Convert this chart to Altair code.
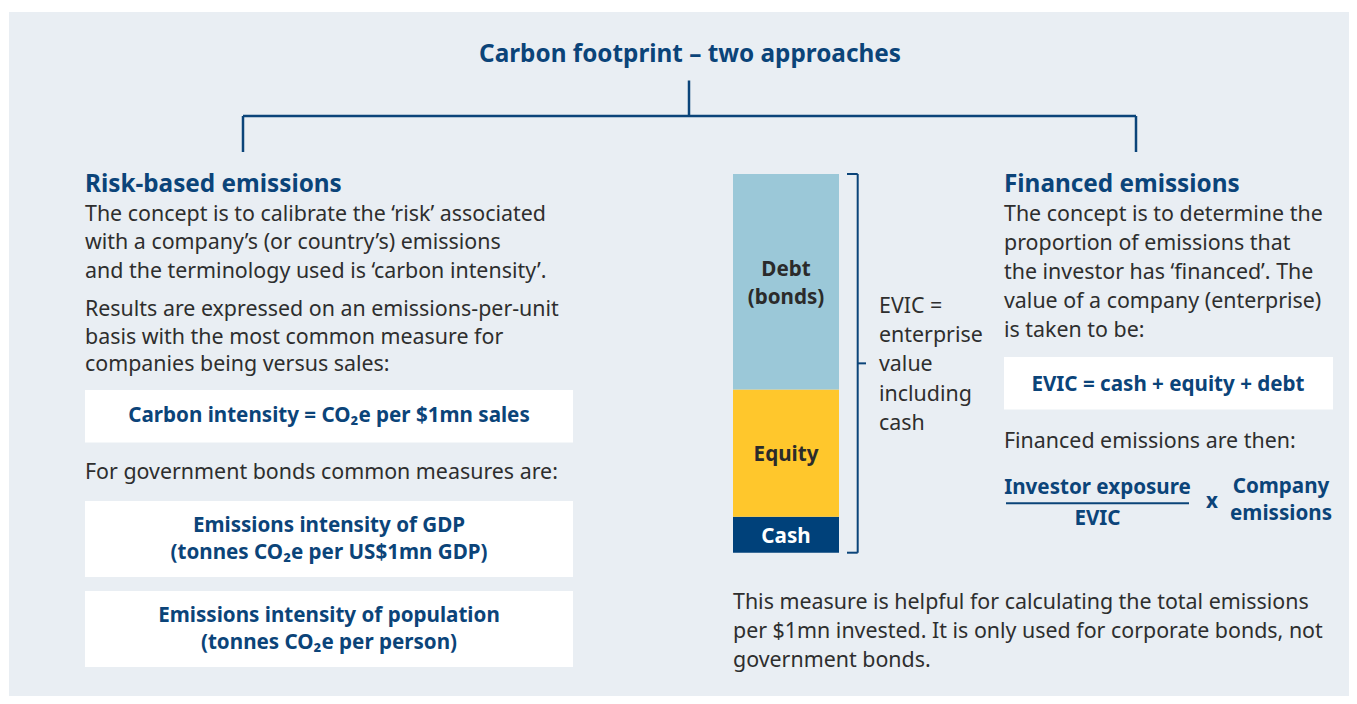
import altair as alt
import pandas as pd

# ---------------- content ----------------
title = ["Carbon footprint – two approaches"]

left_heading = ["Risk-based emissions"]
left_para1 = [
    "The concept is to calibrate the ‘risk’ associated",
    "with a company’s (or country’s) emissions",
    "and the terminology used is ‘carbon intensity’.",
]
left_para2 = [
    "Results are expressed on an emissions-per-unit",
    "basis with the most common measure for",
    "companies being versus sales:",
]
box1_text = ["Carbon intensity = CO₂e per $1mn sales"]
left_para3 = ["For government bonds common measures are:"]
box2_text = ["Emissions intensity of GDP", "(tonnes CO₂e per US$1mn GDP)"]
box3_text = ["Emissions intensity of population", "(tonnes CO₂e per person)"]

components = ["Cash", "Equity", "Debt"]
shares = [9.5, 33.6, 56.9]
component_labels = ["Cash", "Equity", "Debt\n(bonds)"]
evic_note = ["EVIC =", "enterprise", "value", "including", "cash"]

right_heading = ["Financed emissions"]
right_para1 = [
    "The concept is to determine the",
    "proportion of emissions that",
    "the investor has ‘financed’. The",
    "value of a company (enterprise)",
    "is taken to be:",
]
box4_text = ["EVIC = cash + equity + debt"]
right_para2 = ["Financed emissions are then:"]
numerator = ["Investor exposure"]
denominator = ["EVIC"]
times_sign = ["x"]
factor = ["Company", "emissions"]
bottom_para = [
    "This measure is helpful for calculating the total emissions",
    "per $1mn invested. It is only used for corporate bonds, not",
    "government bonds.",
]

# ---------------- styles / layout ----------------
OX, OY = 8, 8
W, H = 1341, 688
FONT = "Noto Sans"
NAVY = "#0b4479"
BAR_NAVY = "#00417a"
BODY = "#2e2e2e"
PANEL = "#e9eef3"
LIGHTBLUE = "#9bc8d8"
YELLOW = "#ffc72c"
BODY_SIZE = 21.4
BOLD_SIZE = 20.6
HEAD_SIZE = 24.3
DY = 2


def text_layer(xs, ys, texts, size=BODY_SIZE, weight="normal", color=BODY, align="left"):
    df = pd.DataFrame({"x": [v - OX for v in xs], "y": [v - OY for v in ys], "t": texts})
    return alt.Chart(df).mark_text(
        align=align, baseline="middle", font=FONT, fontSize=size,
        fontWeight=weight, color=color, dy=DY,
    ).encode(
        x=alt.X("x:Q", scale=None, axis=None),
        y=alt.Y("y:Q", scale=None, axis=None),
        text="t:N",
    )


# panels / boxes
rect_df = pd.DataFrame({
    "x": [9 - OX, 85 - OX, 85 - OX, 85 - OX, 1004 - OX],
    "x2": [W, 573 - OX, 573 - OX, 573 - OX, 1333 - OX],
    "y": [12 - OY, 390 - OY, 501 - OY, 591 - OY, 357 - OY],
    "y2": [H, 442.5 - OY, 577 - OY, 667 - OY, 409.5 - OY],
    "c": [PANEL, "white", "white", "white", "white"],
})
rects = alt.Chart(rect_df).mark_rect().encode(
    x=alt.X("x:Q", scale=None, axis=None), x2="x2:Q",
    y=alt.Y("y:Q", scale=None, axis=None), y2="y2:Q",
    color=alt.Color("c:N", scale=None),
)

# connector tree
seg_df = pd.DataFrame({
    "x": [v - OX for v in [689, 243, 243, 1136]],
    "x2": [v - OX for v in [689, 1136, 243, 1136]],
    "y": [v - OY for v in [80.5, 116, 116, 116]],
    "y2": [v - OY for v in [116, 116, 152, 152]],
})
tree = alt.Chart(seg_df).mark_rule(color=NAVY, strokeWidth=2.5).encode(
    x=alt.X("x:Q", scale=None, axis=None), x2="x2:Q",
    y=alt.Y("y:Q", scale=None, axis=None), y2="y2:Q",
)

# fraction line
frac_df = pd.DataFrame({"x": [1006 - OX], "x2": [1189 - OX], "y": [503.3 - OY]})
frac = alt.Chart(frac_df).mark_rule(color=NAVY, strokeWidth=2).encode(
    x=alt.X("x:Q", scale=None, axis=None), x2="x2:Q",
    y=alt.Y("y:Q", scale=None, axis=None),
)

# stacked EVIC bar
bar_df = pd.DataFrame({"component": components, "share": shares,
                       "order": [0, 1, 2], "label": component_labels})
yscale = alt.Scale(domain=[0, 100], range=[552.7 - OY, 174 - OY])
base = alt.Chart(bar_df).transform_stack(
    stack="share", groupby=[], as_=["lo", "hi"], sort=[alt.SortField("order")]
).transform_calculate(mid="(datum.lo + datum.hi) / 2")
bars = base.mark_rect().encode(
    x=alt.value(733 - OX), x2=alt.value(839 - OX),
    y=alt.Y("lo:Q", scale=yscale, axis=None), y2="hi:Q",
    color=alt.Color("component:N", legend=None,
                    scale=alt.Scale(domain=components, range=[BAR_NAVY, YELLOW, LIGHTBLUE])),
)


def bar_label_layer(filt, dy):
    return base.transform_filter(filt).mark_text(
        font=FONT, fontSize=BOLD_SIZE, fontWeight="bold", baseline="middle", align="center",
        lineBreak="\n", lineHeight=28, dy=dy,
    ).encode(
        x=alt.value(786 - OX),
        y=alt.Y("mid:Q", scale=yscale, axis=None),
        text="label:N",
        color=alt.Color("component:N", legend=None,
                        scale=alt.Scale(domain=components, range=["white", "#2b2b2b", "#2b2b2b"])),
    )


labels_single = bar_label_layer("indexof(datum.label, '\\n') < 0", 2)
labels_multi = bar_label_layer("indexof(datum.label, '\\n') >= 0", -12)

# bracket next to the bar (in bar units)
br_df = pd.DataFrame({
    "x": [v - OX for v in [857.7, 847, 847, 857.7]],
    "x2": [v - OX for v in [857.7, 857.7, 857.7, 866]],
    "v": [0, 0, 100, 50],
    "v2": [100, 0, 100, 50],
})
bracket = alt.Chart(br_df).mark_rule(color=NAVY, strokeWidth=2).encode(
    x=alt.X("x:Q", scale=None, axis=None), x2="x2:Q",
    y=alt.Y("v:Q", scale=yscale, axis=None), y2="v2:Q",
)

layers = [
    rects, tree, frac, bars, labels_single, labels_multi, bracket,
    text_layer([690], [53], title, size=HEAD_SIZE, weight="bold", color=NAVY, align="center"),
    text_layer([85], [183], left_heading, size=HEAD_SIZE, weight="bold", color=NAVY),
    text_layer([85] * 3, [213, 241, 270], left_para1),
    text_layer([85] * 3, [308, 336, 363], left_para2),
    text_layer([329], [414], box1_text, size=BOLD_SIZE, weight="bold", color=NAVY, align="center"),
    text_layer([85], [471], left_para3),
    text_layer([329] * 2, [524, 551], box2_text, size=BOLD_SIZE, weight="bold", color=NAVY, align="center"),
    text_layer([329] * 2, [614, 641], box3_text, size=BOLD_SIZE, weight="bold", color=NAVY, align="center"),
    text_layer([879] * 5, [305, 334, 363, 393, 422], evic_note),
    text_layer([1004], [183], right_heading, size=HEAD_SIZE, weight="bold", color=NAVY),
    text_layer([1004] * 5, [213, 242, 271, 300, 329], right_para1),
    text_layer([1168], [383], box4_text, size=BOLD_SIZE, weight="bold", color=NAVY, align="center"),
    text_layer([1004], [440], right_para2),
    text_layer([1097.5], [486], numerator, size=BOLD_SIZE, weight="bold", color=NAVY, align="center"),
    text_layer([1097.5], [517], denominator, size=BOLD_SIZE, weight="bold", color=NAVY, align="center"),
    text_layer([1212], [500], times_sign, size=BOLD_SIZE, weight="bold", color=NAVY, align="center"),
    text_layer([1281] * 2, [485, 512], factor, size=BOLD_SIZE, weight="bold", color=NAVY, align="center"),
    text_layer([733] * 3, [601, 630, 659], bottom_para),
]

chart = alt.layer(*layers).resolve_scale(
    x="independent", y="independent", color="independent"
).properties(
    width=W, height=H, padding=0, background="white",
    autosize=alt.AutoSizeParams(type="none"),
).configure_view(stroke=None)

chart.save("out.html", embed_options={"renderer": "svg", "actions": False})
